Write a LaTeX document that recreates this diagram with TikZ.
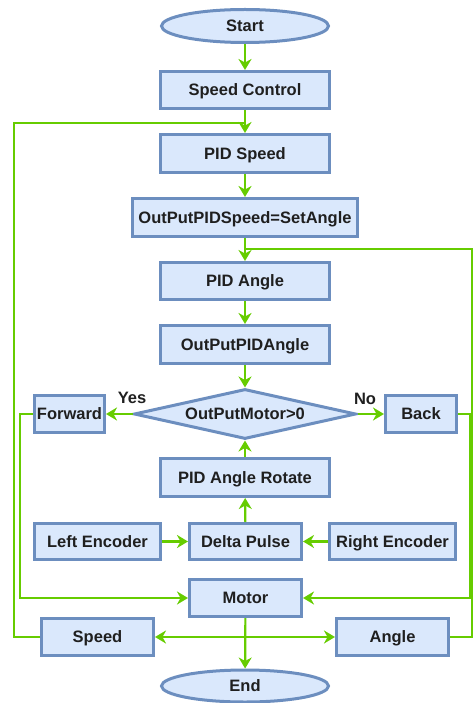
\documentclass[tikz,border=0pt]{standalone}
\usepackage{fontspec}
\setmainfont{Liberation Sans}
\usetikzlibrary{shapes.geometric,arrows.meta}
\definecolor{boxfill}{HTML}{DAE8FC}
\definecolor{boxline}{HTML}{6C8EBF}
\definecolor{flow}{HTML}{66CC00}
\begin{document}
\begin{tikzpicture}[x=1pt,y=-1pt,
  font=\fontsize{16.5}{19}\selectfont\bfseries,
  base/.style={draw=boxline,fill=boxfill,line width=3pt,inner sep=0pt,text=black!88,
    text height=11.8pt,text depth=0pt},
  proc/.style={base,rectangle,minimum height=37pt},
  term/.style={base,ellipse,minimum width=167pt,minimum height=33pt},
  decision/.style={base,diamond,minimum width=222pt,minimum height=50pt,aspect=4.3},
  link/.style={draw=flow,line width=2.2pt},
  arr/.style={link,-{Stealth[length=11pt,width=13pt,inset=3.5pt]}},
  lbl/.style={text=black!88}]
\useasboundingbox (0,0) rectangle (473,703);

% main column
\node[term] (start) at (245,26) {Start};
\node[proc,minimum width=169pt] (sc) at (245,90) {Speed Control};
\node[proc,minimum width=169pt,minimum height=38pt] (pids) at (245,153.5) {PID Speed};
\node[proc,minimum width=225pt,minimum height=38pt] (outs) at (245,217.5) {OutPutPIDSpeed=SetAngle};
\node[proc,minimum width=169pt] (pida) at (245,281) {PID Angle};
\node[proc,minimum width=169pt,minimum height=38pt] (outa) at (245,344.5) {OutPutPIDAngle};
\node[decision] (dec) at (245,414) {OutPutMotor>0};
\node[proc,minimum width=70pt] (fwd) at (69.5,414) {Forward};
\node[proc,minimum width=71pt] (back) at (421,414) {Back};
\node[proc,minimum width=169pt,minimum height=38pt] (rot) at (245,477.5) {PID Angle Rotate};
\node[proc,minimum width=112pt,minimum height=36pt] (delta) at (245.5,541.5) {Delta Pulse};
\node[proc,minimum width=126pt,minimum height=36pt] (lenc) at (97.5,541.5) {Left Encoder};
\node[proc,minimum width=126pt,minimum height=36pt] (renc) at (392.5,541.5) {Right Encoder};
\node[proc,minimum width=112pt] (motor) at (245.5,598) {Motor};
\node[proc,minimum width=112pt] (speed) at (97.5,637) {Speed};
\node[proc,minimum width=112pt] (angle) at (392.5,637) {Angle};
\node[term,minimum height=32pt] (end) at (245,686) {End};

% junction points
\coordinate (jspeed) at (245,123);
\coordinate (jangle) at (245,249);
\coordinate (jmotor) at (245.5,637);

% straight flow
\draw[arr] (start) -- (sc);
\draw[arr] (sc) -- (pids);
\draw[arr] (pids) -- (outs);
\draw[arr] (outs) -- (pida);
\draw[arr] (pida) -- (outa);
\draw[arr] (outa) -- (dec);
\draw[arr] (dec.west) -- (fwd.east);
\draw[arr] (dec.east) -- (back.west);
\draw[arr] (rot) -- (dec);
\draw[arr] (delta) -- (rot);
\draw[arr] (lenc) -- (delta);
\draw[arr] (renc) -- (delta);
\draw[arr] (motor) -- (end);
\draw[arr] (jmotor) -- (speed.east);
\draw[arr] (jmotor) -- (angle.west);

% branch labels
\node[lbl] (yes) at (132,398) {Yes};
\node[lbl] (no) at (365,399) {No};

% direction to motor
\draw[arr] (fwd.west) -- (20,414) |- (motor.west);
\draw[arr] (back.east) -- (470,414) |- (motor.east);

% feedback loops
\draw[link] (speed.west) -- (14,637) -- (14,123) -- (jspeed);
\draw[link] (angle.east) -- (472,637) -- (472,249) -- (jangle);
\end{tikzpicture}
\end{document}
